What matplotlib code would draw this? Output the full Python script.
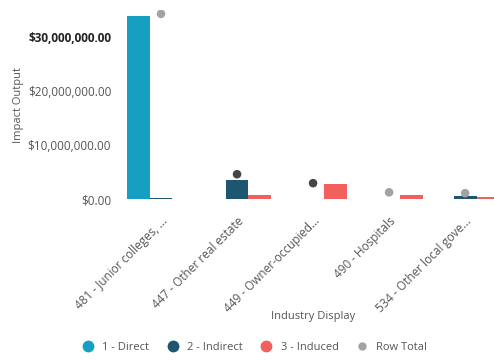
import numpy as np
import matplotlib.pyplot as plt
from matplotlib.lines import Line2D

plt.rcParams['font.family'] = ['Open Sans', 'DejaVu Sans']

# impact output by industry, split by effect type
industries = ['481 - Junior colleges, ...', '447 - Other real estate',
              '449 - Owner-occupied...', '490 - Hospitals',
              '534 - Other local gove...']
direct = [33900000, 0, 0, 0, 50000]
indirect = [150000, 3500000, 0, 0, 550000]
induced = [80000, 700000, 2800000, 750000, 350000]
row_total = [34300000, 4600000, 2950000, 1250000, 1100000]
yticks = [0, 10000000, 20000000, 30000000]
ytick_labels = ['$0.00', '$10,000,000.00', '$20,000,000.00', '$30,000,000.00']

c_direct = '#179fc1'
c_indirect = '#1e5570'
c_induced = '#f0605c'
dot_colors = ['#a3a3a3', '#454545', '#454545', '#a3a3a3', '#a3a3a3']

fig = plt.figure(figsize=(4.94, 3.6), dpi=100)
ax = fig.add_axes([0.249, 0.447, 0.751, 0.525])

x = np.arange(len(industries))
w = 0.30
ax.bar(x - w, direct, w, color=c_direct)
ax.bar(x, indirect, w, color=c_indirect)
ax.bar(x + w, induced, w, color=c_induced)
ax.scatter(x, row_total, s=38, c=dot_colors, zorder=3, linewidths=0)

ax.set_xlim(-0.5, 4.38)
ax.set_ylim(0, 35000000)
ax.set_yticks(yticks)
ax.set_yticklabels(ytick_labels, fontsize=8.5, color='#555555')
ax.get_yticklabels()[-1].set_color('#222222')
ax.get_yticklabels()[-1].set_fontweight('bold')
ax.set_xticks(x)
ax.set_xticklabels(industries, rotation=45, ha='right', rotation_mode='anchor',
                   fontsize=8.5, color='#555555')
ax.tick_params(axis='y', length=0, pad=8.5)
ax.tick_params(axis='x', length=0, pad=11)
for s in ax.spines.values():
    s.set_visible(False)

ax.set_ylabel('Impact Output', fontsize=8, color='#555555', labelpad=3)
fig.text(0.634, 0.122, 'Industry Display', ha='center', va='center',
         fontsize=8, color='#555555')

handles = [Line2D([], [], ls='', marker='o', ms=7.5, color=c_direct),
           Line2D([], [], ls='', marker='o', ms=7.5, color=c_indirect),
           Line2D([], [], ls='', marker='o', ms=7.5, color=c_induced),
           Line2D([], [], ls='', marker='o', ms=5, color='#a3a3a3')]
fig.legend(handles, ['1 - Direct', '2 - Indirect', '3 - Induced', 'Row Total'],
           loc='center', bbox_to_anchor=(0.51, 0.036), ncol=4, frameon=False,
           fontsize=8, handletextpad=0.3, columnspacing=1.1,
           labelcolor='#555555')

fig.savefig('out.png', dpi=100)
